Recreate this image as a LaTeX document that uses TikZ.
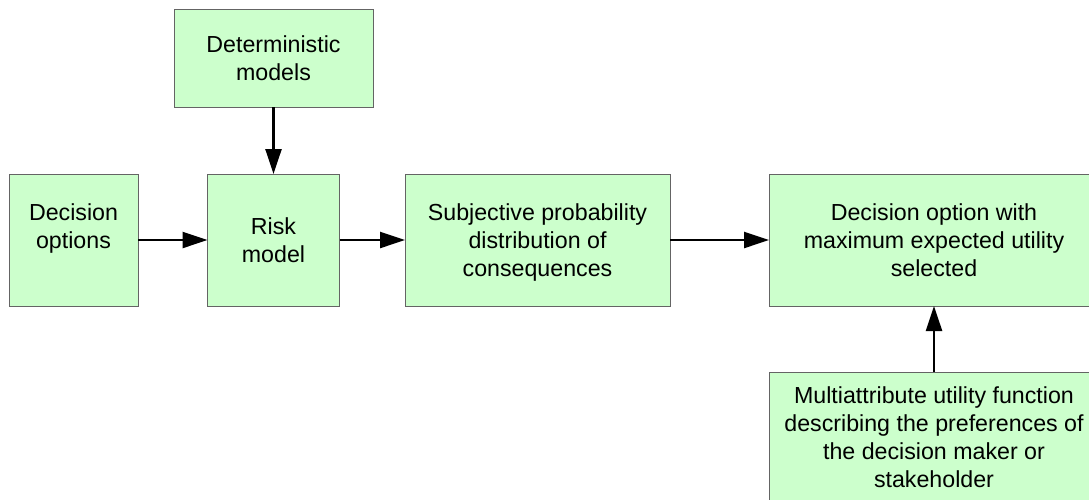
\documentclass[tikz,border=0pt]{standalone}
\usepackage{fontspec}
\setmainfont{Liberation Sans}
\usetikzlibrary{arrows.meta}
\definecolor{boxfill}{HTML}{CCFFCC}
\definecolor{boxline}{HTML}{646464}
% line strut: keeps every text line the same height in the boxes
\newcommand\ls{\rule[-6pt]{0pt}{28pt}}
\tikzset{
  flowbox/.style={draw=boxline, fill=boxfill, line width=1pt, inner sep=0pt, outer sep=0pt,
    align=center, font=\fontsize{23.2}{28}\selectfont},
  flowarrow/.style={line width=2.4pt, -{Triangle[length=25pt,width=16pt]}}
}
\begin{document}
\begin{tikzpicture}[x=1pt,y=-1pt]
\useasboundingbox (0,0) rectangle (1089,499);
\clip (0,0) rectangle (1089,499);
\fill[white] (0,0) rectangle (1089,499);

\node[flowbox, minimum width=199pt, minimum height=98pt] (det) at (273.5,58)
  {\ls Deterministic\\\ls models};
\node[flowbox, minimum width=129pt, minimum height=132pt] (dopt) at (73.5,240)
  {\ls Decision\\\ls options\\\ls};
\node[flowbox, minimum width=132pt, minimum height=132pt] (risk) at (273.5,240)
  {\ls Risk\\\ls model};
\node[flowbox, minimum width=265pt, minimum height=132pt] (subj) at (537.5,240)
  {\ls Subjective probability\\\ls distribution of\\\ls consequences};
\node[flowbox, minimum width=330pt, minimum height=132pt] (dmax) at (934,240)
  {\ls Decision option with\\\ls maximum expected utility\\\ls selected};
\node[flowbox, minimum width=330pt, minimum height=130pt] (multi) at (934,437)
  {\ls Multiattribute utility function\\\ls describing the preferences of\\\ls the decision maker or\\\ls stakeholder};

\draw[flowarrow] (det.south) -- (risk.north);
\draw[flowarrow] (dopt.east) -- (risk.west);
\draw[flowarrow] (risk.east) -- (subj.west);
\draw[flowarrow] (subj.east) -- (dmax.west);
\draw[flowarrow] (multi.north) -- (dmax.south);
\end{tikzpicture}
\end{document}
